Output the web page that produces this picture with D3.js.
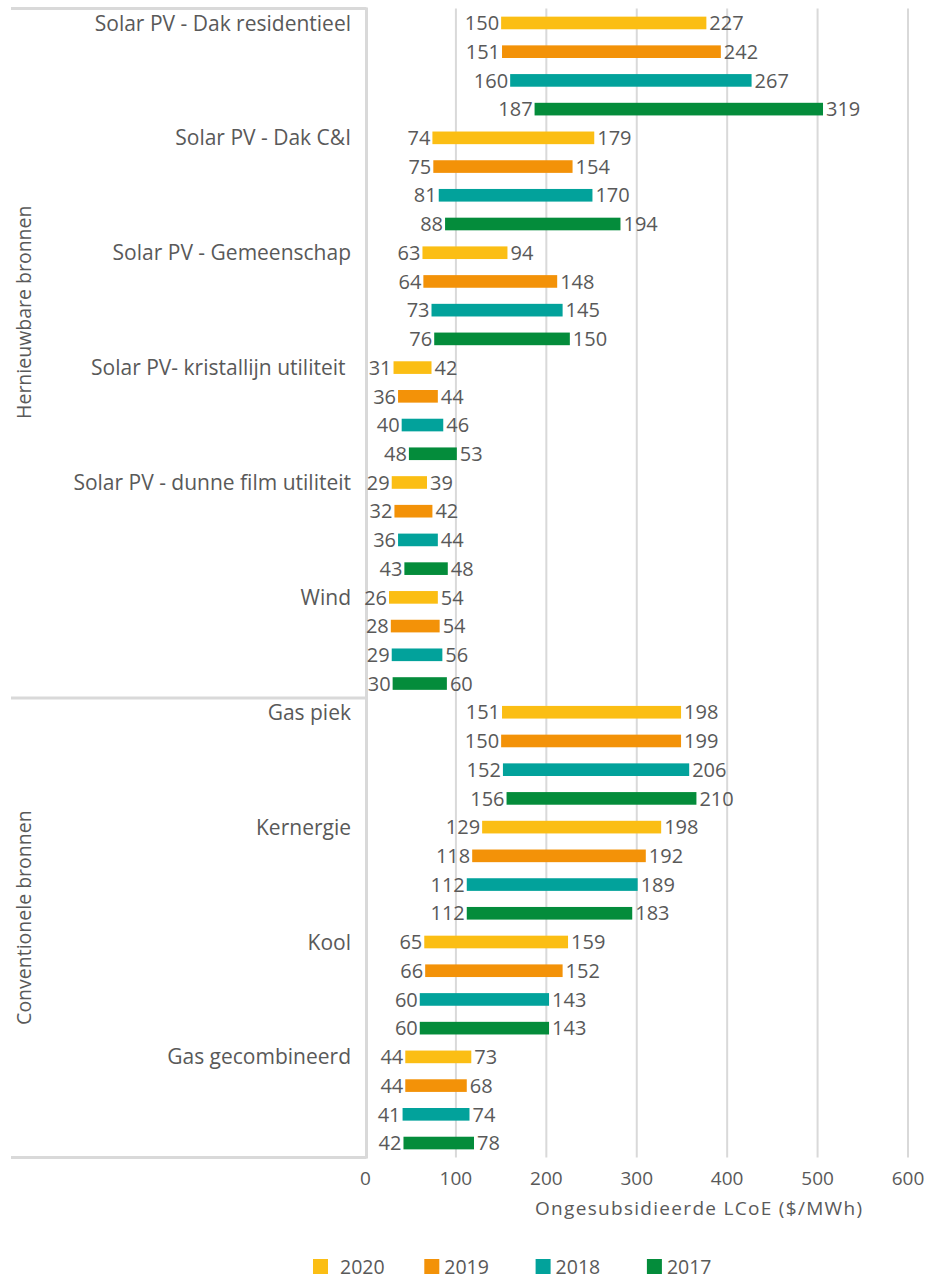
<!DOCTYPE html>
<html>
<head>
<meta charset="utf-8">
<script src="https://cdn.jsdelivr.net/npm/d3@7"></script>
<style>
  html, body { margin: 0; padding: 0; background: #fff; }
  svg { display: block; }
  text { font-family: "Open Sans", "Noto Sans", sans-serif; fill: #595959; white-space: pre; }
</style>
</head>
<body>
<svg id="chart" width="937" height="1280"></svg>
<script>
// ---- data ----
const categories = [
  "Solar PV - Dak residentieel",
  "Solar PV - Dak C&I",
  "Solar PV - Gemeenschap",
  "Solar PV- kristallijn utiliteit ",
  "Solar PV - dunne film utiliteit",
  "Wind",
  "Gas piek",
  "Kernergie",
  "Kool",
  "Gas gecombineerd"
];
const groups = ["Hernieuwbare bronnen", "Conventionele bronnen"];
const groupSizes = [6, 4];
const years = ["2020", "2019", "2018", "2017"];
const low2020  = [150, 74, 63, 31, 29, 26, 151, 129, 65, 44];
const high2020 = [227, 179, 94, 42, 39, 54, 198, 198, 159, 73];
const low2019  = [151, 75, 64, 36, 32, 28, 150, 118, 66, 44];
const high2019 = [242, 154, 148, 44, 42, 54, 199, 192, 152, 68];
const low2018  = [160, 81, 73, 40, 36, 29, 152, 112, 60, 41];
const high2018 = [267, 170, 145, 46, 44, 56, 206, 189, 143, 74];
const low2017  = [187, 88, 76, 48, 43, 30, 156, 112, 60, 42];
const high2017 = [319, 194, 150, 53, 48, 60, 210, 183, 143, 78];
const xTicks = [0, 100, 200, 300, 400, 500, 600];
const xTitle = "Ongesubsidieerde LCoE ($/MWh)";

// ---- styles ----
const colors = {"2020": "#FBBE14", "2019": "#F39208", "2018": "#02A29B", "2017": "#048C3B"};
const lows = {"2020": low2020, "2019": low2019, "2018": low2018, "2017": low2017};
const highs = {"2020": high2020, "2019": high2019, "2018": high2018, "2017": high2017};

(function () {
const rows = [];
categories.forEach((c, ci) => {
  years.forEach((yr, yi) => {
    rows.push({cat: c, ci, year: yr, yi, low: lows[yr][ci], high: highs[yr][ci], idx: rows.length});
  });
});

const svg = d3.select("#chart");
const x = d3.scaleLinear().domain([0, 600]).range([365.5, 908]);
const y = d3.scaleBand().domain(rows.map(r => r.idx)).range([8.6, 1157.4])
  .paddingInner(0.56).paddingOuter(0.28);
const step = y.step();
const rowCenter = i => y(i) + y.bandwidth() / 2;
const yTop = y.range()[0], yBottom = y.range()[1];
const grid = "#D9D9D9";

// gridlines
svg.append("g").selectAll("line").data(xTicks.filter(t => t > 0)).join("line")
  .attr("x1", d => x(d)).attr("x2", d => x(d))
  .attr("y1", yTop).attr("y2", yBottom)
  .attr("stroke", grid).attr("stroke-width", 2);

// category axis structure
const axisX = x(0) + 1;
const leftX = 11;
svg.append("line").attr("x1", axisX).attr("x2", axisX).attr("y1", yTop - 1).attr("y2", yBottom + 1)
  .attr("stroke", grid).attr("stroke-width", 3);
let acc = 0;
const bounds = [0];
groupSizes.forEach(s => { acc += s * years.length; bounds.push(acc); });
const boundY = d => d === rows.length ? yBottom : (d === 0 ? yTop : rowCenter(d) - step / 2);
svg.append("g").selectAll("line").data(bounds).join("line")
  .attr("x1", leftX).attr("x2", axisX)
  .attr("y1", boundY).attr("y2", boundY)
  .attr("stroke", grid).attr("stroke-width", 3);

// group labels (rotated)
const groupShift = [-41, -10];
groups.forEach((g, gi) => {
  const cy = (boundY(bounds[gi]) + boundY(bounds[gi + 1])) / 2 + groupShift[gi];
  svg.append("text")
    .attr("transform", `translate(31,${cy}) rotate(-90)`)
    .attr("text-anchor", "middle")
    .attr("font-size", 19.5)
    .text(g);
});

// category labels on first row of each category
svg.append("g").selectAll("text").data(rows.filter(r => r.yi === 0)).join("text")
  .attr("x", 351).attr("y", d => rowCenter(d.idx))
  .attr("dy", "0.36em")
  .attr("text-anchor", "end")
  .attr("font-size", 21)
  .text(d => d.cat);

// bars: stacked (invisible low + visible high)
svg.append("g").selectAll("rect").data(rows).join("rect")
  .attr("x", d => x(d.low))
  .attr("width", d => x(d.low + d.high) - x(d.low))
  .attr("y", d => y(d.idx))
  .attr("height", y.bandwidth())
  .attr("fill", d => colors[d.year]);

// low labels
svg.append("g").selectAll("text").data(rows).join("text")
  .attr("x", d => x(d.low) - 2).attr("y", d => rowCenter(d.idx))
  .attr("dy", "0.36em").attr("text-anchor", "end").attr("font-size", 20)
  .text(d => d.low);
// high labels
svg.append("g").selectAll("text").data(rows).join("text")
  .attr("x", d => x(d.low + d.high) + 3).attr("y", d => rowCenter(d.idx))
  .attr("dy", "0.36em").attr("text-anchor", "start").attr("font-size", 20)
  .text(d => d.high);

// x tick labels
svg.append("g").selectAll("text").data(xTicks).join("text")
  .attr("x", d => x(d)).attr("y", 1185)
  .attr("text-anchor", "middle").attr("font-size", 19)
  .text(d => d);

// x title
svg.append("text").attr("x", 535).attr("y", 1215)
  .attr("text-anchor", "start").attr("font-size", 19)
  .attr("textLength", 327).attr("lengthAdjust", "spacing")
  .text(xTitle);

// legend
const legend = svg.append("g").selectAll("g").data(years).join("g")
  .attr("transform", (d, i) => `translate(${313 + i * 111.3},1259)`);
legend.append("rect").attr("width", 15).attr("height", 15).attr("fill", d => colors[d]);
legend.append("text").attr("x", (d, i) => i === 0 ? 27 : 20).attr("y", 15)
  .attr("font-size", 19.5).text(d => d);
})();
</script>
</body>
</html>
